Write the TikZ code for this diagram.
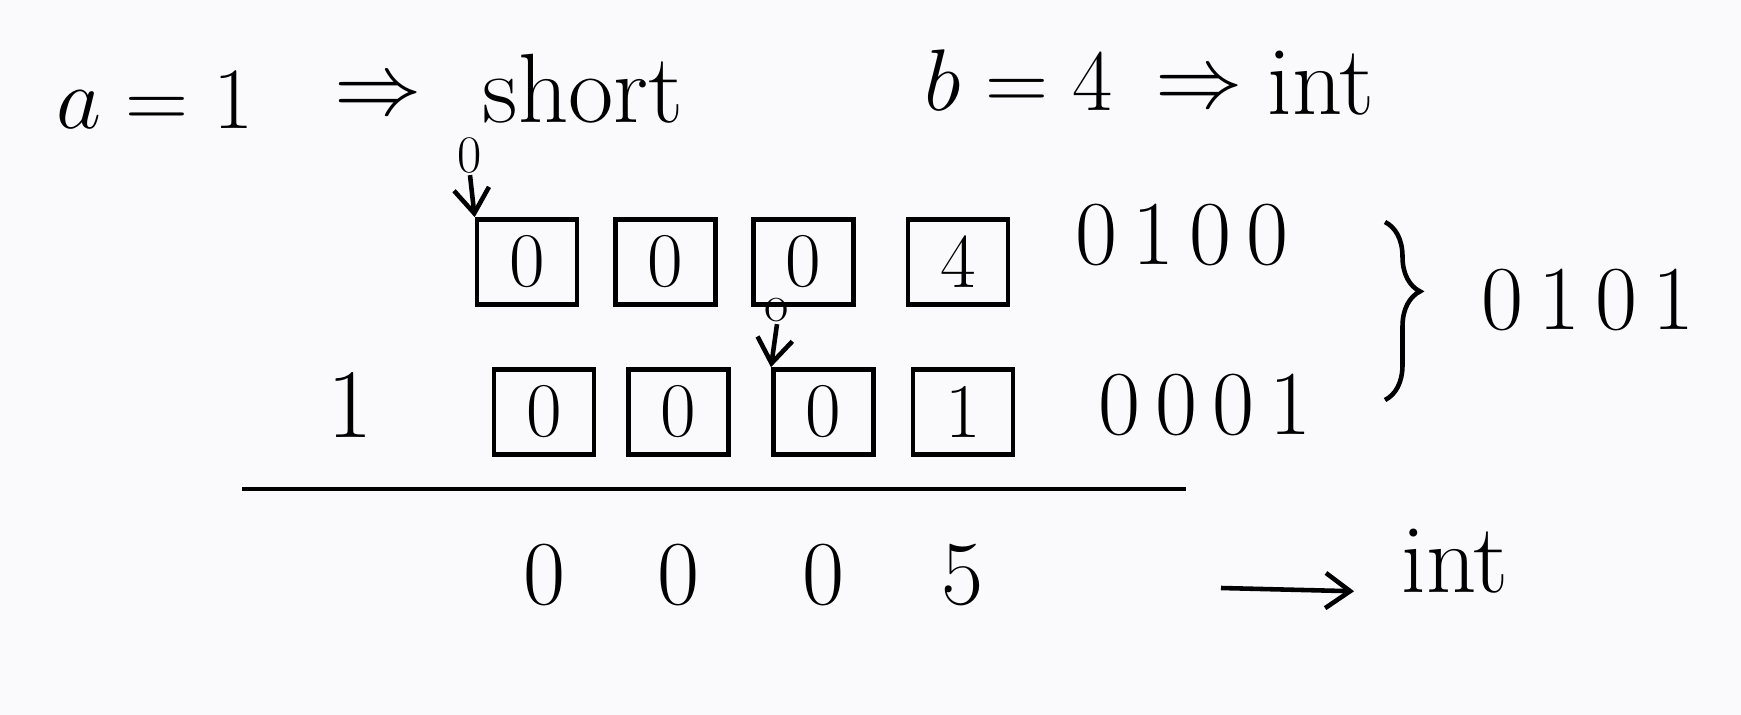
\documentclass[tikz,border=0pt]{standalone}
\usetikzlibrary{
    positioning,
    arrows.meta,
    decorations.pathreplacing
}
\definecolor{paper}{RGB}{250,250,252}

\begin{document}
\begin{tikzpicture}[
    x=0.01cm, y=-0.01cm,
    line width=1.3pt,
    big/.style={font=\fontsize{28}{32}\selectfont, inner sep=0pt},
    bits/.style={font=\fontsize{26}{30}\selectfont, inner sep=0pt},
    small/.style={font=\fontsize{15}{18}\selectfont, inner sep=0pt},
    cell/.style={
        draw,
        minimum width=1cm,
        minimum height=0.85cm,
        inner sep=0pt,
        font=\fontsize{22}{26}\selectfont
    },
    arrow/.style={-{Straight Barb[length=7pt,width=10pt]}, line width=1.3pt}
]

% Set bounding box to match the sketch
\fill[paper] (0,0) rectangle (1741,715);
\useasboundingbox (0,0) rectangle (1741,715);

% ================= HEADER =================
\node[big] (a1) at (155,100) {$a=1$};
\node[big] (imp1) at (378,98) {$\Rightarrow$};
\node[big] (short) at (583,89) {short};

\node[big] (b4) at (1019,80) {$b=4$};
\node[big] (imp2) at (1199,91) {$\Rightarrow$};
\node[big] (intA) at (1321,83) {int};

% ================= TOP ROW (short a) =================
\node[cell] (t1) at (527,262) {0};
\node[cell, right=0.34cm of t1] (t2) {0};
\node[cell, right=0.33cm of t2] (t3) {0};
\node[cell, right=0.5cm of t3] (t4) {4};
\node[bits] (topbits) at (1182,235) {0\,1\,0\,0};

\node[small] (zeroA) at (470,155) {0};
\draw[arrow] (zeroA.south) -- (t1.north west);

% ================= BOTTOM ROW (int b) =================
\node[big] (one) at (350,405) {1};
\node[cell] (u1) at (544,412) {0};
\node[cell, right=0.3cm of u1] (u2) {0};
\node[cell, right=0.4cm of u2] (u3) {0};
\node[cell, right=0.35cm of u3] (u4) {1};
\node[bits] (botbits) at (1205,405) {0\,0\,0\,1};

\node[small] (zeroB) at (777,310) {o};
\draw[arrow] (zeroB.south) -- (u3.north west);

% ---- brace and sum
\coordinate (bt) at (1385,222);
\coordinate (bb) at (1385,400);
\draw[decorate, decoration={brace, amplitude=0.35cm, aspect=0.39}] (bt) -- (bb);
\node[bits] (sum) at (1588,300) {0\,1\,0\,1};

% ================= RESULT =================
\coordinate (lineL) at (242,489);
\coordinate (lineR) at (1186,489);
\draw (lineL) -- (lineR);

\node[bits, below=0.85cm of u1] (r1) {0};
\node[bits, below=0.85cm of u2] (r2) {0};
\node[bits, below=0.85cm of u3] (r3) {0};
\node[bits, below=0.85cm of u4] (r4) {5};

\node[big] (intB) at (1455,561) {int};
\coordinate (arrS) at (1221,588);
\draw[arrow, shorten >=0.45cm] (arrS) -- (intB.base west);

\end{tikzpicture}
\end{document}
